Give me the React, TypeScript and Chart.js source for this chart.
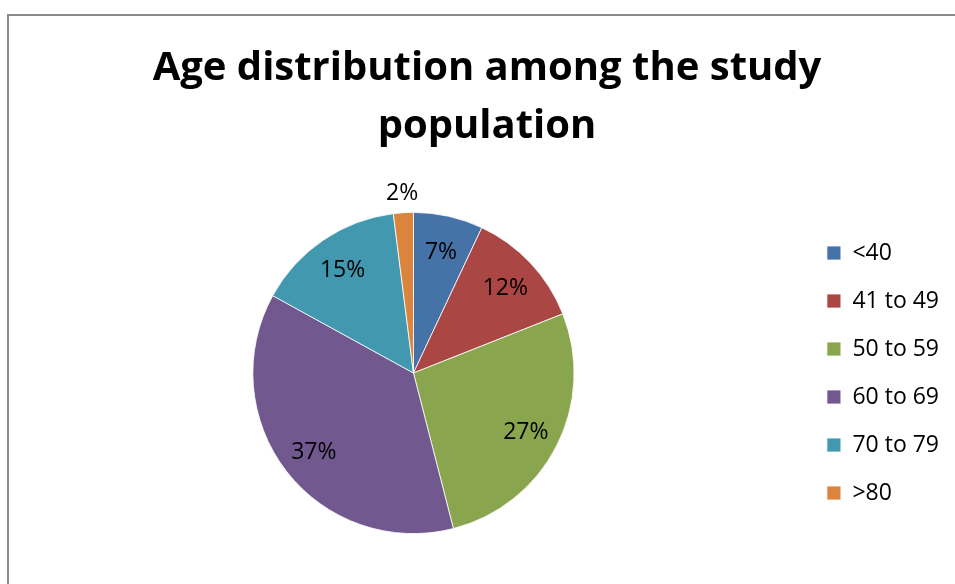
import React, { useEffect, useRef } from 'react';
import { Chart, registerables } from 'chart.js';

Chart.register(...registerables);

// Age groups and their share of the study population (%)
const ageGroups = ['<40', '41 to 49', '50 to 59', '60 to 69', '70 to 79', '>80'];
const shares = [7, 12, 27, 37, 15, 2];
const sliceColors = ['#4572A7', '#AA4643', '#89A54E', '#71588F', '#4198AF', '#DB843D'];
const titleLines = ['Age distribution among the study', 'population'];

// Draws "xx%" on each slice; tiny slices get their label just outside the pie
const percentLabels = {
  id: 'percentLabels',
  afterDraw(chart: Chart) {
    const { ctx } = chart;
    const meta = chart.getDatasetMeta(0);
    const values = chart.data.datasets[0].data as number[];
    const total = values.reduce((a, b) => a + b, 0);
    ctx.save();
    ctx.font = '23px "Open Sans"';
    ctx.fillStyle = '#000';
    ctx.textAlign = 'center';
    ctx.textBaseline = 'middle';
    meta.data.forEach((el: any, i: number) => {
      const { startAngle, endAngle, outerRadius, x, y } = el.getProps(
        ['startAngle', 'endAngle', 'outerRadius', 'x', 'y'],
        true
      );
      const mid = (startAngle + endAngle) / 2;
      const pct = Math.round((values[i] / total) * 100);
      const r = pct < 5 ? outerRadius * 1.13 : outerRadius * 0.785;
      ctx.fillText(pct + '%', x + Math.cos(mid) * r, y + Math.sin(mid) * r + 2);
    });
    ctx.restore();
  },
};

const App: React.FC = () => {
  const canvasRef = useRef<HTMLCanvasElement | null>(null);

  useEffect(() => {
    if (!canvasRef.current) return;
    const chart = new Chart(canvasRef.current, {
      type: 'pie',
      data: {
        labels: ageGroups,
        datasets: [
          {
            data: shares,
            backgroundColor: sliceColors,
            borderColor: '#ffffff',
            borderWidth: 0.8,
          },
        ],
      },
      options: {
        animation: false,
        responsive: false,
        layout: { padding: { left: 25, right: 6, top: 0, bottom: 50 } },
        plugins: {
          title: {
            display: true,
            text: titleLines,
            color: '#000',
            font: { family: 'Open Sans', size: 40, weight: 'bold', lineHeight: 1.45 },
            padding: { top: 40, bottom: 56 },
          },
          legend: {
            position: 'right',
            fullSize: false,
            labels: {
              color: '#000',
              font: { family: 'Open Sans', size: 23 },
              boxWidth: 14,
              boxHeight: 14,
              padding: 25,
            },
          },
          tooltip: { enabled: false },
        },
      },
      plugins: [percentLabels],
    });
    return () => chart.destroy();
  }, []);

  return (
    <div style={{ position: 'fixed', left: 0, top: 0, width: 955, height: 584, background: '#fff', overflow: 'hidden' }}>
      <div
        style={{
          position: 'absolute',
          left: 7,
          top: 14,
          width: 980,
          height: 600,
          borderLeft: '2px solid #8a8a8a',
          borderTop: '2px solid #8a8a8a',
        }}
      />
      <canvas ref={canvasRef} width={955} height={584} style={{ position: 'absolute', left: 0, top: 0 }} />
    </div>
  );
};

export default App;
